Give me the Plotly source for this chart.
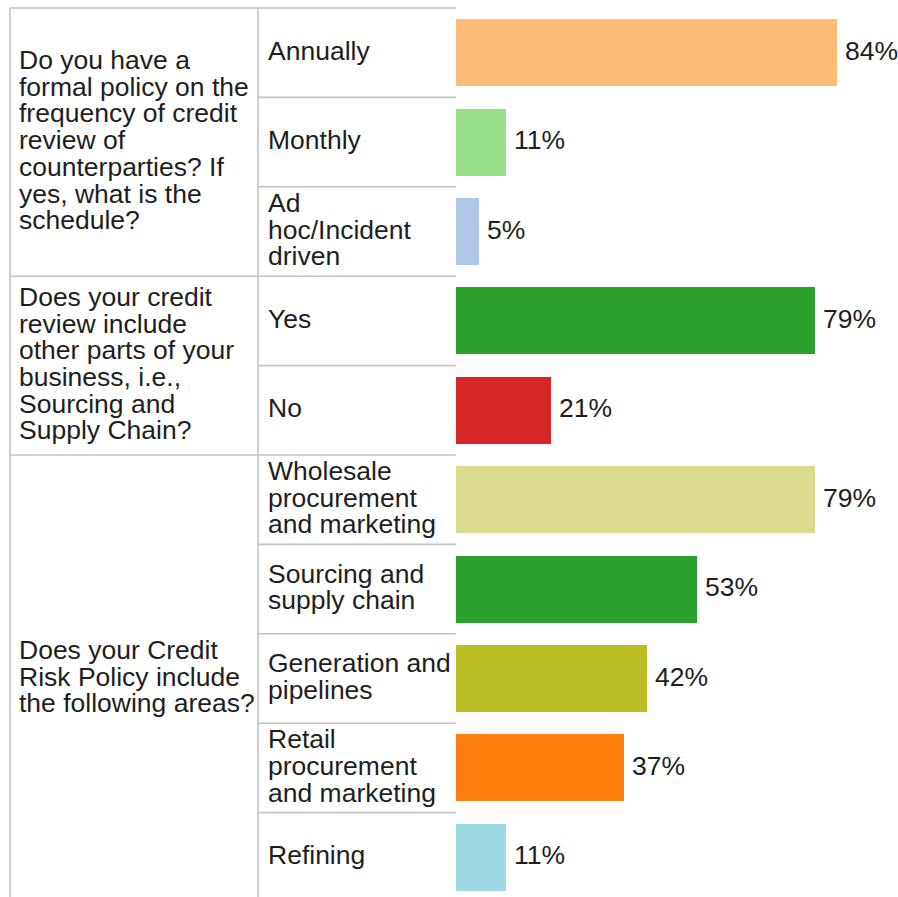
import plotly.graph_objects as go

# ---------------- data ----------------
questions = [
    ["Do you have a", "formal policy on the", "frequency of credit", "review of",
     "counterparties? If", "yes, what is the", "schedule?"],
    ["Does your credit", "review include", "other parts of your", "business, i.e.,",
     "Sourcing and", "Supply Chain?"],
    ["Does your Credit", "Risk Policy include", "the following areas?"],
]
group_sizes = [3, 2, 5]
answers = [
    ["Annually"],
    ["Monthly"],
    ["Ad", "hoc/Incident", "driven"],
    ["Yes"],
    ["No"],
    ["Wholesale", "procurement", "and marketing"],
    ["Sourcing and", "supply chain"],
    ["Generation and", "pipelines"],
    ["Retail", "procurement", "and marketing"],
    ["Refining"],
]
values = [84, 11, 5, 79, 21, 79, 53, 42, 37, 11]
colors = ["#ffbb78", "#98df8a", "#aec7e8", "#2ca02c", "#d62728",
          "#dbdb8d", "#2ca02c", "#bcbd22", "#ff7f0e", "#9edae5"]

# ---------------- layout geometry ----------------
W, H = 898, 897
bar_x0 = 456.0          # pixel where value 0 sits
px_per_pct = 4.54
left_px = 10.0
col2_px = 258.0
top_px = 8.0
row_h = 89.4
line_px = 26.7
font_size = 26.5
text_color = "#1e1e1e"
grid_color = "#c4c4c4"
FONT = "Liberation Sans, Arial, Helvetica, sans-serif"
TEXT_YSHIFT = 2

x_lo = -bar_x0 / px_per_pct
x_hi = (W - bar_x0) / px_per_pct
y_top = -0.5 - top_px / row_h
y_bot = y_top + H / row_h
line_rows = line_px / row_h

n = len(values)
idx = list(range(n))

fig = go.Figure()
fig.add_trace(go.Bar(
    x=values, y=idx, orientation="h", width=0.75,
    marker=dict(color=colors, line=dict(width=0)),
    hoverinfo="skip", showlegend=False,
))

shapes = []
line_style = dict(color=grid_color, width=1.6)
px = lambda p: p / W  # pixel -> paper x

# group boundaries (full-width table lines)
bounds = [0]
for g in group_sizes:
    bounds.append(bounds[-1] + g)
for b in bounds[:-1]:
    shapes.append(dict(type="line", xref="paper", yref="y",
                       x0=px(left_px), x1=px(bar_x0), y0=b - 0.5, y1=b - 0.5, line=line_style))
# row boundaries inside answer column
for i in range(1, n):
    if i not in bounds:
        shapes.append(dict(type="line", xref="paper", yref="y",
                           x0=px(col2_px), x1=px(bar_x0), y0=i - 0.5, y1=i - 0.5, line=line_style))
# vertical lines
for xp in (left_px, col2_px):
    shapes.append(dict(type="line", xref="paper", yref="y",
                       x0=px(xp), x1=px(xp), y0=-0.5, y1=y_bot, line=line_style))

annotations = []
tfont = dict(family=FONT, size=font_size, color=text_color)

def add_lines(lines, xpix, ycenter):
    k = len(lines)
    for j, t in enumerate(lines):
        annotations.append(dict(
            text=t, xref="paper", yref="y", x=px(xpix), y=ycenter + (j - (k - 1) / 2) * line_rows,
            xanchor="left", yanchor="middle", yshift=TEXT_YSHIFT, showarrow=False, font=tfont))

# questions
for gi, q in enumerate(questions):
    start, end = bounds[gi], bounds[gi + 1]
    add_lines(q, 17, (start + end - 1) / 2)
# answers
for i, a in enumerate(answers):
    add_lines(a, 266, i)
# value labels
for i, v in enumerate(values):
    annotations.append(dict(
        text=f"{v}%", xref="x", yref="y", x=v, y=i, xanchor="left", yanchor="middle",
        xshift=6, yshift=TEXT_YSHIFT, showarrow=False, font=tfont))

fig.update_layout(
    width=W, height=H,
    margin=dict(l=0, r=0, t=0, b=0),
    paper_bgcolor="white", plot_bgcolor="white",
    xaxis=dict(range=[x_lo, x_hi], visible=False, fixedrange=True),
    yaxis=dict(range=[y_bot, y_top], visible=False, fixedrange=True),
    shapes=shapes, annotations=annotations,
    bargap=0,
)

fig.write_html("out.html")
